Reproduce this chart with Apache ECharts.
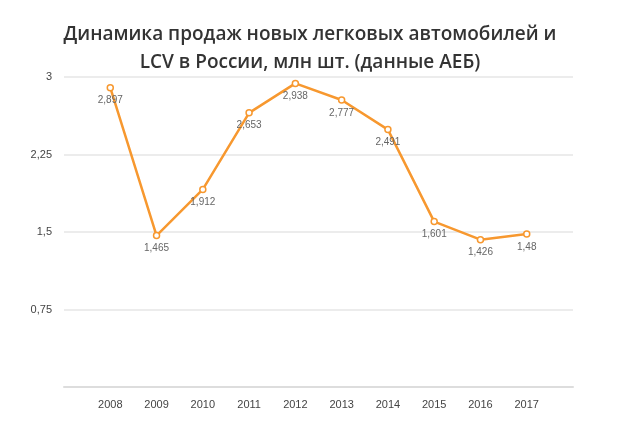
<!DOCTYPE html>
<html lang="ru">
<head>
<meta charset="UTF-8">
<title>Динамика продаж</title>
<script src="https://cdn.jsdelivr.net/npm/echarts@6/dist/echarts.min.js"></script>
</head>
<body style="margin:0">
<div id="main" style="width:620px;height:430px;"></div>
<script>
var years = [2008, 2009, 2010, 2011, 2012, 2013, 2014, 2015, 2016, 2017];
var sales = [2.897, 1.465, 1.912, 2.653, 2.938, 2.777, 2.491, 1.601, 1.426, 1.48];

function comma(v) { return String(v).replace('.', ','); }

var chart = echarts.init(document.getElementById('main'));
chart.setOption({
  title: {
    text: 'Динамика продаж новых легковых автомобилей и\nLCV в России, млн шт. (данные АЕБ)',
    left: 'center', top: 16,
    textStyle: { fontFamily: 'Open Sans', fontSize: 19, fontWeight: 600, color: '#333', lineHeight: 28 }
  },
  grid: { left: 64, right: 47, top: 77, bottom: 43 },
  xAxis: {
    type: 'value', min: 2007, max: 2018, interval: 1,
    axisLine: { show: true, lineStyle: { color: '#ddd', width: 2 } },
    axisTick: { show: false },
    splitLine: { show: false },
    axisLabel: {
      color: '#444', fontSize: 11, margin: 12,
      formatter: function (v) { return (v < 2008 || v > 2017) ? '' : String(v); }
    }
  },
  yAxis: {
    type: 'value', min: 0, max: 3, interval: 0.75,
    axisLine: { show: false }, axisTick: { show: false },
    splitLine: { lineStyle: { color: '#e6e6e6', width: 1.5 } },
    axisLabel: { color: '#444', fontSize: 11, margin: 12, formatter: function (v) { return v === 0 ? '' : comma(v); } }
  },
  series: [{
    type: 'line',
    data: years.map(function (y, i) { return [y, sales[i]]; }),
    symbol: 'circle', symbolSize: 6,
    itemStyle: { color: '#fff', borderColor: '#f7982f', borderWidth: 1.5 },
    lineStyle: { color: '#f7982f', width: 2.5 },
    label: {
      show: true, position: 'bottom', distance: 4, color: '#666', fontSize: 10,
      formatter: function (p) { return comma(p.value[1]); }
    }
  }]
});
</script>
</body>
</html>
